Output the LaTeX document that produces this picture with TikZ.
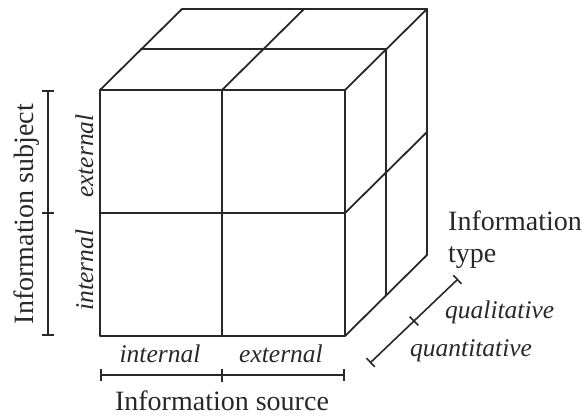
\documentclass[tikz,border=0pt]{standalone}
\usepackage{fontspec}
\setmainfont{Liberation Serif}
\usetikzlibrary{arrows.meta,calc}
\definecolor{ink}{RGB}{40,40,40}
\tikzset{
  edge/.style={draw=ink, line width=1.8pt, line cap=round, line join=round},
  brace/.style={draw=ink, line width=1.6pt, {Bar[width=12pt]}-{Bar[width=12pt]}},
  tick/.style={draw=ink, line width=1.6pt},
  axislabel/.style={text=ink, inner sep=0pt, font=\fontsize{28}{32}\selectfont},
  valuelabel/.style={text=ink, inner sep=0pt, font=\fontsize{25.5}{30}\selectfont\itshape},
}
\begin{document}
\begin{tikzpicture}[x=1pt, y=-1pt]
  \useasboundingbox (0,0) rectangle (585,416);

  % front face corners
  \coordinate (f1) at (100,90);  \coordinate (f2) at (222,90);  \coordinate (f3) at (345,90);
  \coordinate (f4) at (100,213); \coordinate (f6) at (345,213);
  \coordinate (f7) at (100,336); \coordinate (f8) at (222,336); \coordinate (f9) at (345,336);
  % depth offsets: half and full
  \coordinate (dh) at (41,-41);
  \coordinate (df) at (82,-81);

  % front face grid
  \draw[edge] (f1) -- (f3) -- (f9) -- (f7) -- cycle;
  \draw[edge] (f4) -- (f6);
  \draw[edge] (f2) -- (f8);

  % top face
  \draw[edge] (f1) -- ++(df) coordinate (t1) -- ++(245,0) coordinate (t3);
  \draw[edge] (f2) -- ++(df);
  \draw[edge] (f3) -- (t3);
  \draw[edge] (f1) ++(dh) -- ++(245,0) coordinate (m3);

  % right face
  \draw[edge] (m3) -- ++(0,246);
  \draw[edge] (t3) -- ++(0,246);
  \draw[edge] (f6) -- ++(df);
  \draw[edge] (f9) -- ++(df);

  % vertical axis: information subject
  \coordinate (sA) at (48,90);
  \coordinate (sM) at (48,213);
  \coordinate (sB) at (48,336);
  \draw[brace] (sA) -- (sB);
  \draw[tick] ($(sM)+(-6,0)$) -- ($(sM)+(6,0)$);
  \node[axislabel, rotate=90, anchor=base] (subj) at (33,214) {Information subject};
  \node[valuelabel, rotate=90, anchor=base] (sext) at (93,156) {external};
  \node[valuelabel, rotate=90, anchor=base] (sint) at (93,270) {internal};

  % horizontal axis: information source
  \coordinate (hA) at (100,375);
  \coordinate (hM) at (222,375);
  \coordinate (hB) at (345,375);
  \draw[brace] (hA) -- (hB);
  \draw[tick] ($(hM)+(0,-6.5)$) -- ($(hM)+(0,6.5)$);
  \node[valuelabel, anchor=base] (oint) at (160,362) {internal};
  \node[valuelabel, anchor=base] (oext) at (281,362) {external};
  \node[axislabel, anchor=base] (src) at (222,410) {Information source};

  % depth axis: information type
  \coordinate (dA) at (370,363);
  \coordinate (dM) at (414,321);
  \coordinate (dB) at (458,279);
  \draw[brace] (dA) -- (dB);
  \draw[tick] ($(dM)+(-4.3,-4.3)$) -- ($(dM)+(4.3,4.3)$);
  \node[axislabel, anchor=base west] (typ1) at (448,230) {Information};
  \node[axislabel, anchor=base west] (typ2) at (448,262) {type};
  \node[valuelabel, anchor=base west] (qual) at (445,318) {qualitative};
  \node[valuelabel, anchor=base west] (quan) at (410,356) {quantitative};
\end{tikzpicture}
\end{document}
